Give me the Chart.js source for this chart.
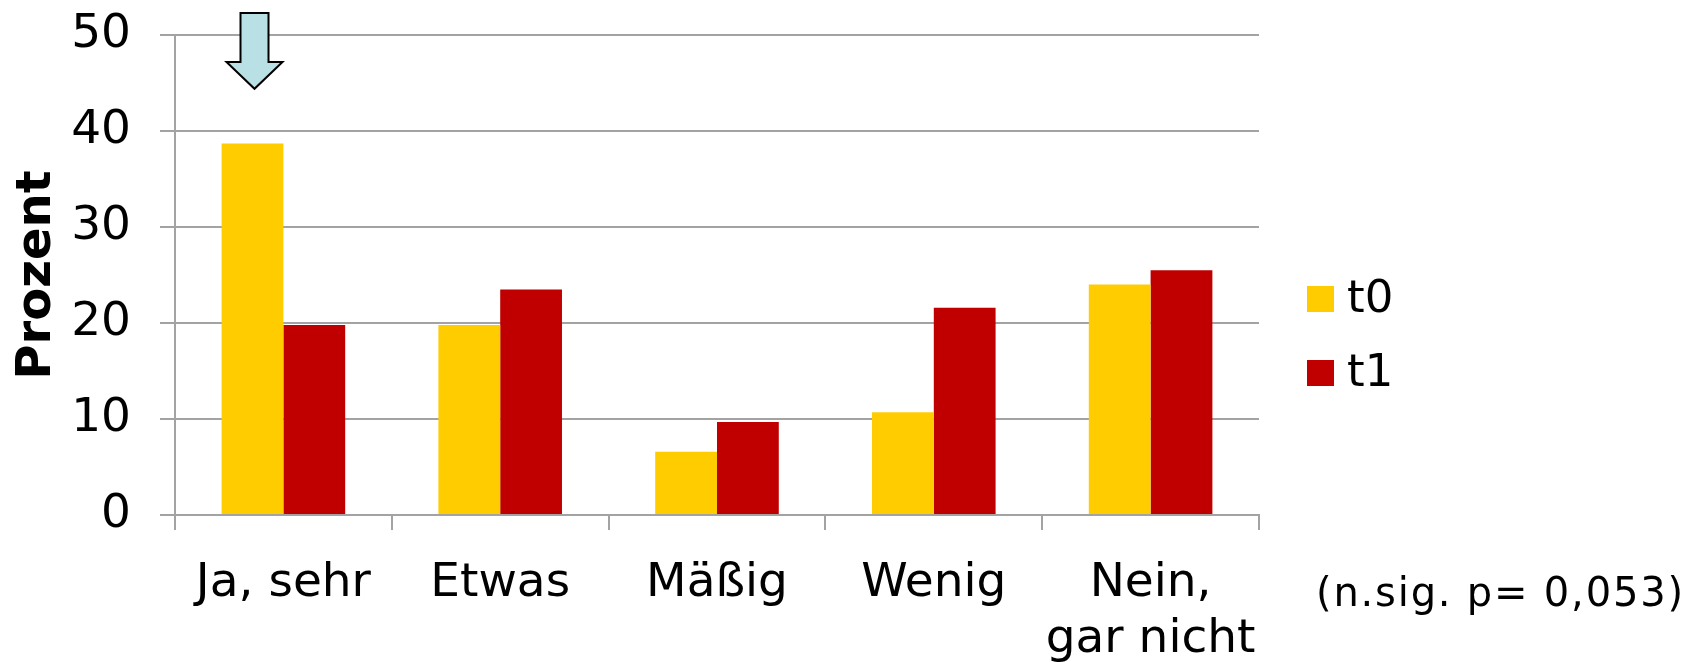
<!DOCTYPE html>
<html lang="de">
<head>
<meta charset="utf-8">
<title>Prozent t0 / t1</title>
<script src="https://cdn.jsdelivr.net/npm/chart.js@4.4.1/dist/chart.umd.min.js"></script>
<style>
  html, body { margin: 0; padding: 0; background: #ffffff; }
  canvas { display: block; }
</style>
</head>
<body>
<canvas id="chart" width="1695" height="662"></canvas>
<script>
// Answer categories
const categories = ['Ja, sehr', 'Etwas', 'Mäßig', 'Wenig', ['Nein,', 'gar nicht']];
// Series names
const seriesNames = ['t0', 't1'];
// Percentages per category
const valuesT0 = [38.7, 19.8, 6.6, 10.7, 24.0];
const valuesT1 = [19.8, 23.5, 9.7, 21.6, 25.5];
// Y axis ticks
const yTicks = [0, 10, 20, 30, 40, 50];
// Note below the legend
const noteText = '(n.sig. p= 0,053)';
// Arrow above the first t0 bar (value range on the y axis)
const arrowValues = { top: 52.3, headTop: 47.2, tip: 44.4 };

const FONT = '"DejaVu Sans", Verdana, sans-serif';
const GRID = '#a3a3a3';
const colors = ['#ffcc00', '#c00000'];

// Legend, note and arrow drawn after the chart
const extras = {
  id: 'extras',
  afterDraw(chart) {
    const { ctx, chartArea, scales } = chart;
    const y = scales.y;
    ctx.save();

    // legend
    const lx = chartArea.right + 48;
    const firstRow = chartArea.top + 264;
    const rowGap = 74;
    chart.data.datasets.forEach((ds, i) => {
      const cy = firstRow + i * rowGap;
      ctx.fillStyle = ds.backgroundColor;
      ctx.fillRect(lx, cy - 13, 27, 26);
      ctx.fillStyle = '#000';
      ctx.font = '45px ' + FONT;
      ctx.textAlign = 'left';
      ctx.textBaseline = 'middle';
      ctx.fillText(ds.label, lx + 40, cy + 1);
    });

    // note
    ctx.font = '40px ' + FONT;
    ctx.letterSpacing = '1.8px';
    ctx.fillStyle = '#000';
    ctx.textAlign = 'left';
    ctx.textBaseline = 'alphabetic';
    ctx.fillText(noteText, chartArea.right + 57, 606);
    ctx.letterSpacing = '0px';

    // arrow pointing at the first t0 bar
    const bar = chart.getDatasetMeta(0).data[0];
    const cx = bar.x + 2;
    const yTop = y.getPixelForValue(arrowValues.top);
    const yHead = y.getPixelForValue(arrowValues.headTop);
    const yTip = y.getPixelForValue(arrowValues.tip);
    const shaft = 14, head = 28;
    ctx.beginPath();
    ctx.moveTo(cx - shaft, yTop);
    ctx.lineTo(cx + shaft, yTop);
    ctx.lineTo(cx + shaft, yHead);
    ctx.lineTo(cx + head, yHead);
    ctx.lineTo(cx, yTip);
    ctx.lineTo(cx - head, yHead);
    ctx.lineTo(cx - shaft, yHead);
    ctx.closePath();
    ctx.fillStyle = '#b9e0e4';
    ctx.fill();
    ctx.lineWidth = 2;
    ctx.strokeStyle = '#000';
    ctx.stroke();

    ctx.restore();
  }
};

new Chart(document.getElementById('chart'), {
  type: 'bar',
  data: {
    labels: categories,
    datasets: [
      { label: seriesNames[0], data: valuesT0, backgroundColor: colors[0] },
      { label: seriesNames[1], data: valuesT1, backgroundColor: colors[1] }
    ]
  },
  options: {
    responsive: false,
    animation: false,
    devicePixelRatio: 1,
    categoryPercentage: 0.57,
    barPercentage: 1.0,
    layout: { padding: { top: 35, right: 436, bottom: 0, left: 0 } },
    plugins: {
      legend: { display: false },
      tooltip: { enabled: false }
    },
    scales: {
      x: {
        grid: { drawOnChartArea: false, color: GRID, lineWidth: 2, tickLength: 15, offset: true },
        border: { color: GRID, width: 2 },
        ticks: {
          color: '#000',
          padding: 26.5,
          maxRotation: 0,
          autoSkip: false,
          font: { family: FONT, size: 47, lineHeight: 1.18 }
        },
        afterFit(scale) { scale.height = 147; }
      },
      y: {
        min: 0,
        max: 50,
        afterBuildTicks(scale) { scale.ticks = yTicks.map(v => ({ value: v })); },
        grid: { color: GRID, lineWidth: 2, tickLength: 15 },
        border: { color: GRID, width: 2 },
        ticks: {
          color: '#000',
          padding: 29,
          font: { family: FONT, size: 47, lineHeight: 0.25 }
        },
        title: {
          display: true,
          text: 'Prozent',
          color: '#000',
          padding: { top: 9, bottom: 0 },
          font: { family: FONT, size: 48, weight: 'bold' }
        },
        afterFit(scale) { scale.width = 175; }
      }
    }
  },
  plugins: [extras]
});
</script>
</body>
</html>
